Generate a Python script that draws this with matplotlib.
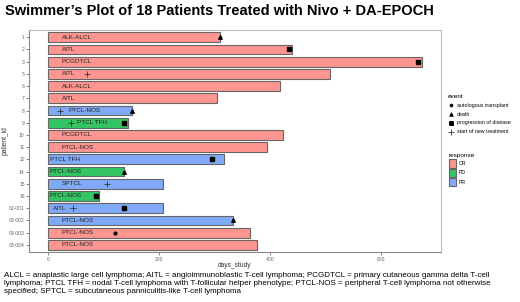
import matplotlib
matplotlib.use("Agg")
import matplotlib.pyplot as plt
from matplotlib.lines import Line2D
from matplotlib.patches import Patch

plt.rcParams['font.family'] = ['Liberation Sans', 'DejaVu Sans']

patients = ["1", "2", "3", "5", "6", "7", "8", "9", "10", "11", "12", "14", "15", "16",
            "02-001", "03-002", "03-003", "03-004"]
days = [310, 440, 674, 508, 418, 304, 151, 145, 423, 394, 318, 138, 207, 92, 207, 334, 364, 376]
response = ["CR", "CR", "CR", "CR", "CR", "CR", "PR", "PD", "CR", "CR", "PR", "PD", "PR", "PD",
            "PR", "PR", "CR", "CR"]
histology = ["ALK-ALCL", "AITL", "PCGDTCL", "AITL", "ALK-ALCL", "AITL", "PTCL-NOS", "PTCL TFH",
             "PCGDTCL", "PTCL-NOS", "PTCL TFH", "PTCL-NOS", "SPTCL", "PTCL-NOS", "AITL",
             "PTCL-NOS", "PTCL-NOS", "PTCL-NOS"]
label_x = [25, 25, 25, 25, 25, 25, 38, 53, 25, 25, 3, 3, 25, 3, 9, 25, 25, 25]

# events: (patient, day, event)
ev_patient = ["1", "2", "3", "5", "8", "8", "9", "9", "12", "14", "15", "16",
              "02-001", "02-001", "03-002", "03-003"]
ev_day = [310, 435, 667, 70, 151, 22, 138, 41, 296, 138, 107, 87, 45, 137, 333, 121]
ev_type = ["death", "progression of disease", "progression of disease", "start of new treatment",
           "death", "start of new treatment", "progression of disease", "start of new treatment",
           "progression of disease", "death", "start of new treatment", "progression of disease",
           "start of new treatment", "progression of disease", "death", "autologous transplant"]

resp_colors = {"CR": "#FF9590", "PD": "#33C463", "PR": "#80AAF8"}
ev_markers = {"autologous transplant": ("o", 2.0), "death": ("^", 2.6),
              "progression of disease": ("s", 2.3), "start of new treatment": ("+", 5)}

fig = plt.figure(figsize=(5.2, 3.02), dpi=100)
ax = fig.add_axes([0.056, 0.165, 0.792, 0.736])

n = len(patients)
ypos = list(range(n))
ax.barh(ypos, days, height=0.8, color=[resp_colors[r] for r in response],
        edgecolor="#666666", linewidth=0.8, zorder=2)
for y, lx, t in zip(ypos, label_x, histology):
    ax.text(lx, y, t, fontsize=4.6, va="center", ha="left", color="#222222", zorder=4)

idx = {p: i for i, p in enumerate(patients)}
for p, d, e in zip(ev_patient, ev_day, ev_type):
    m, s = ev_markers[e]
    if m == "+":
        ax.plot(d, idx[p], marker=m, markersize=s, color="#333333", markeredgewidth=0.6,
                linestyle="none", zorder=5)
    else:
        ax.plot(d, idx[p], marker=m, markersize=s, color="black", linestyle="none", zorder=5)

ax.set_xlim(-33.7, 707.7)
ax.set_ylim(n - 0.4, -0.6)
ax.set_yticks(ypos)
ax.set_yticklabels(patients)
ax.set_xticks([0, 200, 400, 600])
ax.tick_params(axis="both", labelsize=3.6, colors="#555555", length=2, width=0.5,
               labelcolor="#666666", pad=1.2)
for sp in ax.spines.values():
    sp.set_color("#bbbbbb")
    sp.set_linewidth(0.8)
ax.spines["left"].set_color("#888888")
ax.spines["bottom"].set_color("#888888")
ax.set_xlabel("days_study", fontsize=4.8, color="#333333", labelpad=0.5)
ax.set_ylabel("patient_id", fontsize=4.8, color="#333333", labelpad=0)

fig.text(0.01, 0.965, "Swimmer\u2019s Plot of 18 Patients Treated with Nivo + DA-EPOCH",
         fontsize=10.5, fontweight="bold", va="center", ha="left")

# legends
ev_handles = []
for e in ["autologous transplant", "death", "progression of disease", "start of new treatment"]:
    m, s = ev_markers[e]
    ev_handles.append(Line2D([], [], marker=m, markersize=s, color="black" if m != "+" else "#333333",
                             markeredgewidth=0.6, linestyle="none", label=e))
leg1 = fig.legend(handles=ev_handles, title="event", loc="upper left",
                  bbox_to_anchor=(0.862, 0.69), frameon=False, fontsize=3.8,
                  title_fontsize=4.6, handlelength=1.0, handletextpad=0.6,
                  labelspacing=0.75, borderaxespad=0, borderpad=0)
leg1._legend_box.align = "left"
resp_handles = [Patch(facecolor=resp_colors[r], edgecolor="#666666", linewidth=0.8, label=r)
                for r in ["CR", "PD", "PR"]]
leg2 = fig.legend(handles=resp_handles, title="response", loc="upper left",
                  bbox_to_anchor=(0.863, 0.492), frameon=False, fontsize=3.8,
                  title_fontsize=4.6, handlelength=1.3, handleheight=2.0, handletextpad=0.6,
                  labelspacing=0.2, borderaxespad=0, borderpad=0)
leg2._legend_box.align = "left"

caption = ("ALCL = anaplastic large cell lymphoma; AITL = angioimmunoblastic T-cell lymphoma; "
           "PCGDTCL = primary cutaneous gamma delta T-cell\n"
           "lymphoma; PTCL TFH = nodal T-cell lymphoma with T-follicular helper phenotype; "
           "PTCL-NOS = peripheral T-cell lymphoma not otherwise\n"
           "specified; SPTCL = subcutaneous panniculitis-like T-cell lymphoma")
fig.text(0.008, 0.1, caption, fontsize=5.75, va="top", ha="left", linespacing=1.2)

fig.savefig("out.png", dpi=100)
